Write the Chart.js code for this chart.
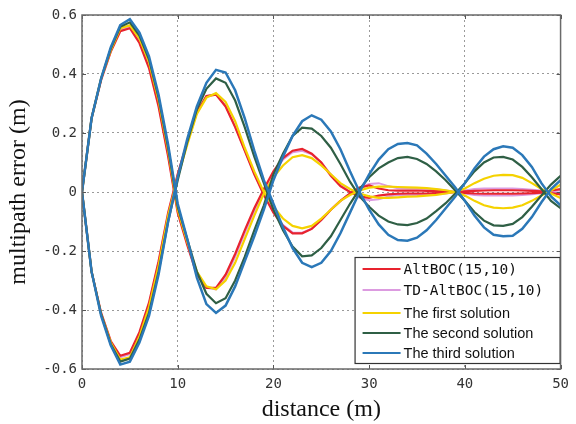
<!DOCTYPE html>
<html>
<head>
<meta charset="utf-8">
<script src="https://cdn.jsdelivr.net/npm/chart.js@4.4.1/dist/chart.umd.min.js"></script>
<style>
html,body{margin:0;padding:0;background:#fff;}
#wrap{position:relative;width:576px;height:424px;}
</style>
</head>
<body>
<div id="wrap"><canvas id="c" width="576" height="424"></canvas></div>
<script>
const distance = [0,1,2,3,4,5,6,7,8,9,10,11,12,13,14,15,16,17,18,19,20,21,22,23,24,25,26,27,28,29,30,31,32,33,34,35,36,37,38,39,40,41,42,43,44,45,46,47,48,49,50];

const seriesNames = ["AltBOC(15,10)", "TD-AltBOC(15,10)", "The first solution", "The second solution", "The third solution"];

const altbocA = [0,0.25,0.38,0.475,0.545,0.555,0.505,0.42,0.29,0.12,-0.07,-0.18,-0.28,-0.325,-0.325,-0.28,-0.21,-0.13,-0.055,0.01,0.07,0.115,0.14,0.146,0.13,0.1,0.055,0.02,0,-0.015,-0.02,-0.012,-0.008,-0.006,-0.005,-0.005,-0.005,-0.004,-0.003,0,0.002,0.004,0.005,0.006,0.006,0.006,0.005,0.004,0.002,-0.004,-0.008];
const altbocB = [0,-0.27,-0.41,-0.505,-0.555,-0.545,-0.475,-0.375,-0.235,-0.07,0.06,0.17,0.27,0.325,0.33,0.29,0.22,0.14,0.06,-0.01,-0.07,-0.115,-0.14,-0.14,-0.125,-0.095,-0.06,-0.03,-0.005,0.015,0.022,0.012,0.006,0.005,0.005,0.005,0.004,0.003,0.002,0,-0.003,-0.005,-0.006,-0.006,-0.006,-0.006,-0.005,-0.004,-0.002,0.005,0.01];

const tdA = [0,0.25,0.383,0.478,0.55,0.56,0.51,0.425,0.295,0.125,-0.065,-0.175,-0.275,-0.325,-0.33,-0.29,-0.22,-0.14,-0.065,0.005,0.065,0.11,0.135,0.14,0.128,0.1,0.06,0.025,0,-0.02,-0.028,-0.025,-0.015,-0.01,-0.01,-0.01,-0.01,-0.008,-0.005,0,0.005,0.01,0.012,0.012,0.012,0.012,0.01,0.008,0.005,0,-0.005];
const tdB = [0,-0.27,-0.412,-0.508,-0.56,-0.55,-0.48,-0.38,-0.24,-0.075,0.06,0.17,0.27,0.325,0.332,0.292,0.222,0.142,0.062,-0.008,-0.068,-0.112,-0.137,-0.138,-0.124,-0.095,-0.06,-0.03,-0.005,0.015,0.027,0.03,0.02,0.013,0.012,0.012,0.011,0.009,0.005,0,-0.005,-0.01,-0.012,-0.012,-0.012,-0.012,-0.01,-0.008,-0.004,0.002,0.006];

const firstA = [0,0.25,0.385,0.48,0.555,0.565,0.52,0.44,0.31,0.14,-0.06,-0.17,-0.27,-0.32,-0.33,-0.3,-0.24,-0.16,-0.08,-0.005,0.05,0.09,0.118,0.125,0.115,0.09,0.06,0.03,0.01,-0.005,-0.015,-0.02,-0.02,-0.018,-0.016,-0.015,-0.012,-0.01,-0.005,0,0.012,0.03,0.045,0.055,0.058,0.057,0.048,0.03,0.01,-0.005,-0.02];
const firstB = [0,-0.27,-0.415,-0.51,-0.568,-0.56,-0.49,-0.39,-0.25,-0.08,0.05,0.16,0.265,0.32,0.335,0.305,0.24,0.15,0.07,0,-0.05,-0.09,-0.115,-0.123,-0.115,-0.09,-0.06,-0.03,-0.01,0.005,0.015,0.018,0.018,0.017,0.016,0.015,0.013,0.01,0.006,0,-0.012,-0.03,-0.045,-0.053,-0.055,-0.053,-0.045,-0.03,-0.012,0.005,0.025];

const secondA = [0,0.25,0.385,0.485,0.56,0.575,0.53,0.45,0.32,0.15,-0.05,-0.16,-0.27,-0.345,-0.377,-0.36,-0.3,-0.22,-0.13,-0.045,0.06,0.13,0.19,0.218,0.215,0.19,0.15,0.095,0.035,-0.015,-0.05,-0.08,-0.1,-0.11,-0.112,-0.105,-0.09,-0.065,-0.038,-0.005,0.03,0.07,0.1,0.117,0.119,0.11,0.085,0.05,0.01,-0.03,-0.055];
const secondB = [0,-0.27,-0.415,-0.515,-0.575,-0.565,-0.5,-0.41,-0.27,-0.1,0.04,0.17,0.28,0.35,0.385,0.37,0.31,0.22,0.12,0.03,-0.06,-0.13,-0.185,-0.218,-0.215,-0.19,-0.15,-0.095,-0.04,0.01,0.05,0.08,0.1,0.115,0.119,0.112,0.095,0.07,0.04,0.005,-0.03,-0.068,-0.097,-0.113,-0.115,-0.108,-0.085,-0.05,-0.012,0.025,0.055];

const thirdA = [0,0.25,0.385,0.49,0.566,0.586,0.54,0.46,0.33,0.16,-0.04,-0.16,-0.29,-0.38,-0.41,-0.385,-0.32,-0.235,-0.15,-0.06,0.04,0.12,0.19,0.24,0.26,0.245,0.205,0.145,0.07,0,-0.06,-0.11,-0.145,-0.163,-0.165,-0.155,-0.13,-0.095,-0.055,-0.015,0.03,0.08,0.12,0.145,0.155,0.15,0.125,0.085,0.03,-0.015,-0.045];
const thirdB = [0,-0.27,-0.42,-0.52,-0.585,-0.575,-0.51,-0.42,-0.28,-0.1,0.05,0.18,0.29,0.37,0.414,0.405,0.345,0.25,0.14,0.04,-0.04,-0.12,-0.19,-0.24,-0.255,-0.24,-0.2,-0.14,-0.07,0,0.06,0.11,0.145,0.163,0.166,0.158,0.13,0.095,0.055,0.015,-0.03,-0.08,-0.12,-0.145,-0.15,-0.148,-0.125,-0.085,-0.035,0.01,0.04];

const yTicks = [-0.6,-0.4,-0.2,0,0.2,0.4,0.6];
const xTicks = [0,10,20,30,40,50];

const colors = ['#e8232e','#dc9be0','#f5d200','#2f5f45','#2b78b8'];
const widths = [2.2,2,2.2,2.2,2.5];
const pairs = [[altbocA,altbocB],[tdA,tdB],[firstA,firstB],[secondA,secondB],[thirdA,thirdB]];
const drawOrder = [3,4,2,1,0]; // lower = on top

function pts(arr){ return distance.map((d,i)=>({x:d,y:arr[i]})); }

const datasets = [];
pairs.forEach((p,si)=>{
  p.forEach(arr=>{
    datasets.push({
      label: seriesNames[si],
      data: pts(arr),
      borderColor: colors[si],
      backgroundColor: colors[si],
      borderWidth: widths[si],
      pointRadius: 0,
      tension: 0,
      fill: false,
      order: drawOrder[si]
    });
  });
});

const frame = {
  id:'frame',
  afterDatasetsDraw(chart){
    const {ctx, chartArea:a, scales} = chart;
    ctx.save();
    ctx.strokeStyle = '#555'; ctx.lineWidth = 1;
    xTicks.forEach(v=>{
      const x = Math.round(scales.x.getPixelForValue(v))+0.5;
      ctx.beginPath(); ctx.moveTo(x,a.bottom); ctx.lineTo(x,a.bottom-4); ctx.moveTo(x,a.top); ctx.lineTo(x,a.top+4); ctx.stroke();
    });
    yTicks.forEach(v=>{
      const y = Math.round(scales.y.getPixelForValue(v))+0.5;
      ctx.beginPath(); ctx.moveTo(a.left,y); ctx.lineTo(a.left+4,y); ctx.moveTo(a.right,y); ctx.lineTo(a.right-4,y); ctx.stroke();
    });
    ctx.strokeStyle = '#6a6a6a'; ctx.lineWidth = 1.5;
    ctx.strokeRect(a.left, a.top, a.right-a.left, a.bottom-a.top);
    const lw = 206, lh = 107;
    const lx = a.right - lw, ly = a.bottom - 5 - lh;
    ctx.fillStyle = '#fff';
    ctx.fillRect(lx, ly, lw, lh);
    ctx.strokeStyle = '#333'; ctx.lineWidth = 1.2;
    ctx.strokeRect(lx+0.5, ly+0.5, lw-1, lh-1);
    const rows = [12, 33, 56, 76, 96];
    seriesNames.forEach((n,i)=>{
      const y = ly + rows[i];
      ctx.strokeStyle = colors[i]; ctx.lineWidth = 2;
      ctx.beginPath(); ctx.moveTo(lx+8,y); ctx.lineTo(lx+46,y); ctx.stroke();
      ctx.fillStyle = '#111';
      ctx.textBaseline = 'middle'; ctx.textAlign = 'left';
      ctx.font = i < 2 ? '14.5px "DejaVu Sans Mono"' : '14.5px "Liberation Sans"';
      ctx.fillText(n, lx+49, y+1);
    });
    ctx.restore();
  }
};

const gridColor = '#9a9a9a';
new Chart(document.getElementById('c'), {
  type:'line',
  data:{datasets},
  options:{
    responsive:false,
    animation:false,
    layout:{padding:{left:0,top:15,right:13,bottom:0}},
    plugins:{legend:{display:false},tooltip:{enabled:false}},
    scales:{
      x:{
        type:'linear', min:0, max:50,
        afterFit(s){ s.height = 55; },
        afterBuildTicks(s){ s.ticks = xTicks.map(v=>({value:v})); },
        grid:{color:gridColor, lineWidth:1, drawTicks:false},
        border:{display:false, dash:[2,3]},
        ticks:{padding:7, color:'#333', font:{family:'DejaVu Sans Mono', size:14}, maxRotation:0},
        title:{display:true, text:'distance (m)', color:'#111', font:{family:'Liberation Serif', size:24}, padding:{top:0,bottom:0}}
      },
      y:{
        type:'linear', min:-0.6, max:0.6,
        afterFit(s){ s.width = 82; },
        afterBuildTicks(s){ s.ticks = yTicks.map(v=>({value:v})); },
        grid:{color:gridColor, lineWidth:1, drawTicks:false},
        border:{display:false, dash:[2,3]},
        ticks:{padding:5, color:'#333', font:{family:'DejaVu Sans Mono', size:14},
          callback:(v)=> (Math.abs(v)<1e-9 ? '0' : v.toFixed(1))},
        title:{display:true, text:'multipath error (m)', color:'#111', font:{family:'Liberation Serif', size:24}, padding:{top:4,bottom:0}}
      }
    }
  },
  plugins:[frame]
});
</script>
</body>
</html>
